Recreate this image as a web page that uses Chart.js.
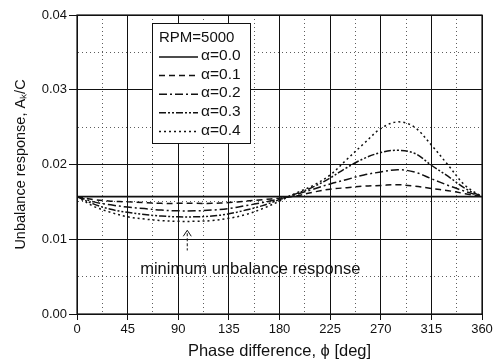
<!DOCTYPE html>
<html>
<head>
<meta charset="utf-8">
<script src="https://cdn.jsdelivr.net/npm/chart.js@4"></script>
<style>
  html, body { margin: 0; padding: 0; background: #fff; }
  #wrap { width: 503px; height: 361px; }
</style>
</head>
<body>
<div id="wrap"><canvas id="chart"></canvas></div>
<script>
// phase difference (deg)
const phase = [0, 15, 30, 45, 60, 75, 90, 105, 120, 135, 150, 165, 180,
               195, 210, 225, 240, 255, 270, 285, 300, 315, 330, 345, 360];

// unbalance response A_k/C, RPM=5000
const alpha00 = [0.0157, 0.0157, 0.0157, 0.0157, 0.0157, 0.0157, 0.0157, 0.0157, 0.0157, 0.0157, 0.0157, 0.0157, 0.0157,
                 0.0157, 0.0157, 0.0157, 0.0157, 0.0157, 0.0157, 0.0157, 0.0157, 0.0157, 0.0157, 0.0157, 0.0157];
const alpha01 = [0.0157, 0.0153, 0.0151, 0.0150, 0.0149, 0.0148, 0.0148, 0.0148, 0.0148, 0.0149, 0.0151, 0.0153, 0.0155,
                 0.0158, 0.0163, 0.0167, 0.0169, 0.0171, 0.0172, 0.0173, 0.0171, 0.0168, 0.0165, 0.0161, 0.0157];
const alpha02 = [0.0157, 0.0150, 0.0146, 0.0143, 0.0141, 0.0139, 0.0138, 0.0138, 0.0139, 0.0141, 0.0145, 0.0149, 0.0154,
                 0.0160, 0.0167, 0.0174, 0.0180, 0.0186, 0.0190, 0.0193, 0.0190, 0.0181, 0.0172, 0.0164, 0.0157];
const alpha03 = [0.0157, 0.0147, 0.0140, 0.0136, 0.0133, 0.0131, 0.0130, 0.0130, 0.0131, 0.0134, 0.0139, 0.0145, 0.0153,
                 0.0161, 0.0170, 0.0182, 0.0196, 0.0208, 0.0216, 0.0219, 0.0215, 0.0199, 0.0184, 0.0168, 0.0157];
const alpha04 = [0.0157, 0.0144, 0.0136, 0.0130, 0.0127, 0.0125, 0.0124, 0.0124, 0.0125, 0.0128, 0.0133, 0.0141, 0.0151,
                 0.0162, 0.0172, 0.0186, 0.0207, 0.0228, 0.0248, 0.0257, 0.0250, 0.0226, 0.0199, 0.0172, 0.0157];

const seriesLabels = ['\u03b1=0.0', '\u03b1=0.1', '\u03b1=0.2', '\u03b1=0.3', '\u03b1=0.4'];
const seriesDash = [[], [6, 4], [8, 3, 2, 3], [7, 2, 2, 2, 2, 2], [2, 3]];
const legendTitle = 'RPM=5000';
const noteText = 'minimum unbalance response';

const FONT = '"Liberation Sans", Arial, Helvetica, sans-serif';
const INK = '#111';

function toPoints(ys) {
  return phase.map((x, i) => ({ x: x, y: ys[i] }));
}

const datasets = [alpha00, alpha01, alpha02, alpha03, alpha04].map((ys, i) => ({
  label: seriesLabels[i],
  data: toPoints(ys),
  borderColor: INK,
  borderWidth: i === 0 ? 1.6 : 1.5,
  borderDash: seriesDash[i],
  pointRadius: 0,
  tension: 0.35,
  fill: false
}));

// frame, legend box and the annotation
const extras = {
  id: 'extras',
  afterDraw(chart) {
    const ctx = chart.ctx;
    const a = chart.chartArea;
    const xs = chart.scales.x, ys = chart.scales.y;
    ctx.save();
    ctx.strokeStyle = INK;
    ctx.lineWidth = 1.2;
    ctx.strokeRect(a.left, a.top, a.right - a.left, a.bottom - a.top);

    // legend
    const lx = a.left + 75, ly = a.top + 8, lw = 98, lh = 120;
    ctx.fillStyle = '#fff';
    ctx.fillRect(lx, ly, lw, lh);
    ctx.lineWidth = 1;
    ctx.strokeRect(lx + 0.5, ly + 0.5, lw, lh);
    ctx.fillStyle = INK;
    ctx.font = '15px ' + FONT;
    ctx.textBaseline = 'middle';
    ctx.textAlign = 'left';
    ctx.fillText(legendTitle, lx + 7, ly + 15);
    ctx.font = '15.5px ' + FONT;
    chart.data.datasets.forEach((ds, i) => {
      const yy = ly + 33 + i * 18.6;
      ctx.beginPath();
      ctx.setLineDash(ds.borderDash);
      ctx.lineWidth = 1.5;
      ctx.moveTo(lx + 7, yy + 1);
      ctx.lineTo(lx + 46, yy + 1);
      ctx.stroke();
      ctx.setLineDash([]);
      ctx.fillText(ds.label, lx + 49, yy);
    });

    // annotation
    ctx.font = '16.5px ' + FONT;
    ctx.textAlign = 'center';
    ctx.fillText(noteText, xs.getPixelForValue(154), ys.getPixelForValue(0.0059));
    const ax = xs.getPixelForValue(98);
    const tip = ys.getPixelForValue(0.0112);
    const base = ys.getPixelForValue(0.0085);
    ctx.lineWidth = 1;
    ctx.beginPath();
    ctx.moveTo(ax - 4, tip + 6);
    ctx.lineTo(ax, tip);
    ctx.lineTo(ax + 4, tip + 6);
    ctx.stroke();
    ctx.setLineDash([3, 2]);
    ctx.beginPath();
    ctx.moveTo(ax, tip + 3);
    ctx.lineTo(ax, base);
    ctx.stroke();
    ctx.restore();
  }
};

const isMajorX = v => Math.round(v * 10) % 450 === 0;
const isMajorY = v => Math.round(v * 1000) % 10 === 0;

new Chart(document.getElementById('chart'), {
  type: 'line',
  data: { datasets: datasets },
  options: {
    responsive: true,
    maintainAspectRatio: false,
    animation: false,
    layout: { padding: { left: 12, right: 21, top: 15, bottom: 0 } },
    plugins: { legend: { display: false }, tooltip: { enabled: false } },
    scales: {
      x: {
        type: 'linear',
        min: 0, max: 360,
        afterFit: s => { s.height = 47; },
        ticks: {
          stepSize: 22.5,
          autoSkip: false,
          maxRotation: 0,
          color: INK,
          padding: 2,
          font: { family: FONT, size: 13 },
          callback: v => isMajorX(v) ? String(v) : ''
        },
        grid: {
          color: c => isMajorX(c.tick.value) ? INK : '#333',
          lineWidth: c => isMajorX(c.tick.value) ? 1 : 0.8,
          tickLength: 6,
          tickColor: c => isMajorX(c.tick.value) ? INK : 'rgba(0,0,0,0)'
        },
        border: {
          color: INK,
          dash: c => (c.tick && !isMajorX(c.tick.value)) ? [1, 3] : []
        },
        title: {
          display: true,
          text: 'Phase difference, \u03d5 [deg]',
          color: INK,
          font: { family: FONT, size: 16.5 },
          padding: { top: 0, bottom: 0 }
        }
      },
      y: {
        min: 0, max: 0.04,
        afterFit: s => { s.width = 65; },
        ticks: {
          stepSize: 0.005,
          color: INK,
          padding: 2,
          font: { family: FONT, size: 13 },
          callback: v => isMajorY(v) ? v.toFixed(2) : ''
        },
        grid: {
          color: c => isMajorY(c.tick.value) ? INK : '#333',
          lineWidth: c => isMajorY(c.tick.value) ? 1 : 0.8,
          tickLength: 8,
          tickColor: c => isMajorY(c.tick.value) ? INK : 'rgba(0,0,0,0)'
        },
        border: {
          color: INK,
          dash: c => (c.tick && !isMajorY(c.tick.value)) ? [1, 3] : []
        },
        title: {
          display: true,
          text: 'Unbalance response, A\u2096/C',
          color: INK,
          font: { family: FONT, size: 14.5 },
          padding: { top: 0, bottom: 4 }
        }
      }
    }
  },
  plugins: [extras]
});
</script>
</body>
</html>
